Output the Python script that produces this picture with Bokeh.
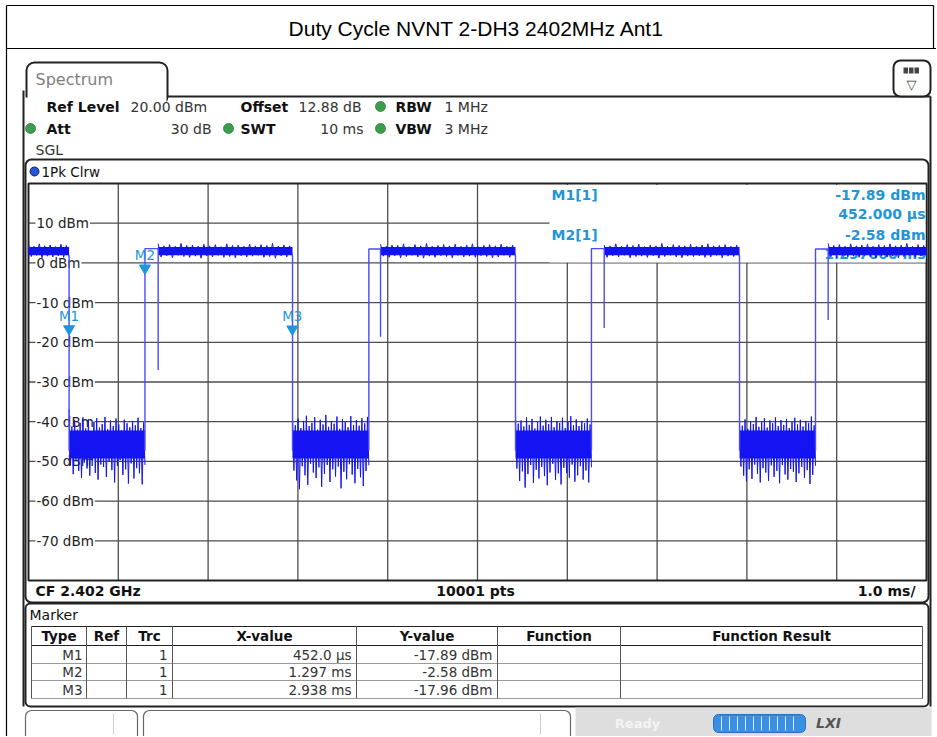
import numpy as np
from bokeh.plotting import figure
from bokeh.models import Range1d
from bokeh.core.properties import value
from bokeh.embed import file_html
from bokeh.resources import INLINE

# ---------------- data ----------------
title_text = "Duty Cycle NVNT 2-DH3 2402MHz Ant1"
sweep_ms = [0.0, 10.0]
level_dbm = [-80.0, 20.0]
x_ticks_ms = [1, 2, 3, 4, 5, 6, 7, 8, 9]
y_ticks_dbm = [10, 0, -10, -20, -30, -40, -50, -60, -70]
y_tick_labels = ["10 dBm", "0 dBm", "-10 dBm", "-20 dBm", "-30 dBm",
                 "-40 dBm", "-50 dBm", "-60 dBm", "-70 dBm"]

# burst timing (ms) and levels (dBm)
fall_ms = [0.452, 2.940, 5.423, 7.918]
rise_ms = [1.297, 3.790, 6.269, 8.764]
dip_ms = [1.444, 3.920, 6.411, 8.905]
dip_dbm = [-27.0, -18.6, -16.4, -14.4]
preamble_dbm = [3.6, 3.5, 3.6, 3.5]
on_core_dbm = [1.9, 4.0]
off_core_dbm = [-49.3, -42.2]

on_peak_hi = [
    [4.6, 4.2, 4.8, 4.3, 4.5, 4.1, 4.7, 4.4],
    [4.8, 4.3, 4.6, 4.2, 4.9, 4.4, 4.5, 4.2, 4.7, 4.3, 4.6, 4.1, 4.8, 4.4, 4.5, 4.2, 4.7, 4.3, 4.6, 4.4, 4.9, 4.2, 4.5, 4.3],
    [4.7, 4.2, 4.5, 4.4, 4.8, 4.1, 4.6, 4.3, 4.9, 4.2, 4.4, 4.6, 4.3, 4.7, 4.2, 4.5, 4.8, 4.1, 4.4, 4.6, 4.3, 4.7, 4.2, 4.5],
    [4.5, 4.3, 4.8, 4.2, 4.6, 4.4, 4.7, 4.1, 4.5, 4.3, 4.9, 4.2, 4.6, 4.4, 4.3, 4.7, 4.2, 4.5, 4.8, 4.3, 4.4, 4.6, 4.2, 4.5],
    [4.9, 4.4, 4.6, 4.2, 4.8, 4.3, 4.5, 4.7, 4.2, 4.6, 4.4, 4.8, 4.3, 4.5, 4.9, 4.2, 4.6, 4.4],
]
on_peak_lo = [
    [1.6, 1.9, 1.3, 1.7, 1.5, 1.8, 1.4, 1.6],
    [1.5, 1.8, 1.3, 1.9, 1.6, 1.4, 1.7, 1.2, 1.8, 1.5, 1.9, 1.4, 1.6, 1.3, 1.8, 1.5, 1.7, 1.9, 1.4, 1.6, 1.2, 1.8, 1.5, 1.7],
    [1.7, 1.4, 1.8, 1.3, 1.6, 1.9, 1.5, 1.2, 1.7, 1.4, 1.8, 1.6, 1.3, 1.9, 1.5, 1.7, 1.4, 1.8, 1.6, 1.3, 1.5, 1.9, 1.4, 1.6],
    [1.4, 1.8, 1.5, 1.9, 1.3, 1.6, 1.7, 1.4, 1.8, 1.2, 1.6, 1.9, 1.5, 1.3, 1.7, 1.6, 1.8, 1.4, 1.5, 1.9, 1.3, 1.7, 1.6, 1.4],
    [1.6, 1.3, 1.8, 1.5, 1.7, 1.4, 1.9, 1.6, 1.2, 1.8, 1.5, 1.7, 1.3, 1.6, 1.9, 1.4, 1.7, 1.5],
]
off_peak_hi = [
    [-36.9, -41.2, -39.6, -42.0, -40.3, -38.9, -41.7, -39.4, -42.4, -40.0, -39.1, -41.5, -40.6, -38.8, -41.9, -39.7, -41.1, -39.2, -40.7, -42.1, -39.5, -40.4, -41.4, -39.8, -40.9, -39.0, -41.6, -40.2],
    [-38.4, -40.9, -39.2, -41.6, -39.8, -38.5, -41.1, -40.3, -38.9, -42.0, -39.5, -40.7, -38.3, -41.3, -39.9, -40.5, -38.7, -41.8, -39.3, -40.1, -41.4, -38.6, -40.8, -39.6, -41.0, -39.1, -40.4, -38.8],
    [-38.2, -40.5, -39.7, -41.2, -38.9, -40.8, -39.3, -41.7, -40.1, -38.7, -41.0, -39.5, -40.6, -38.8, -41.4, -39.9, -40.3, -39.0, -41.6, -40.0, -38.6, -40.9, -39.4, -41.1, -39.8, -40.4, -39.2, -40.7],
    [-40.2, -41.0, -39.4, -41.8, -39.9, -40.6, -38.8, -41.3, -40.0, -39.1, -41.5, -39.7, -40.4, -38.9, -41.1, -39.6, -40.8, -39.3, -41.6, -40.1, -39.0, -40.7, -39.5, -41.2, -39.8, -40.3, -38.7, -40.9],
]
off_peak_lo = [
    [-51.0, -53.2, -49.6, -52.4, -54.1, -50.3, -51.8, -53.6, -49.9, -52.9, -54.6, -50.8, -51.4, -53.9, -50.1, -52.2, -55.3, -51.1, -49.7, -53.4, -52.0, -55.6, -50.5, -54.3, -51.7, -53.0, -55.8, -50.9],
    [-52.3, -54.8, -57.0, -51.2, -53.5, -55.9, -50.6, -52.8, -54.2, -51.5, -56.4, -53.1, -50.9, -55.2, -52.0, -53.8, -51.3, -56.8, -52.6, -54.5, -50.7, -53.3, -55.5, -51.9, -54.0, -56.2, -52.4, -51.0],
    [-51.8, -54.9, -52.5, -56.6, -53.2, -50.9, -55.4, -52.1, -54.3, -51.4, -53.7, -56.0, -52.8, -50.6, -54.7, -53.0, -55.8, -51.6, -52.9, -54.1, -50.8, -55.1, -53.5, -51.2, -54.6, -52.3, -55.3, -51.5],
    [-51.3, -53.6, -55.0, -52.0, -54.4, -50.8, -53.1, -55.3, -51.7, -52.8, -54.9, -51.0, -53.9, -52.4, -55.5, -50.9, -53.3, -54.6, -51.9, -52.6, -55.2, -53.0, -51.4, -54.1, -52.2, -55.7, -53.4, -51.1],
]

marker_names = ["M1", "M2", "M3"]
marker_ms = [0.452, 1.297, 2.938]
marker_dbm = [-17.89, -2.58, -17.96]
marker_x_text = ["452.0 µs", "1.297 ms", "2.938 ms"]
marker_y_text = ["-17.89 dBm", "-2.58 dBm", "-17.96 dBm"]
marker_info = [("M1[1]", "-17.89 dBm"), ("", "452.000 µs"), ("M2[1]", "-2.58 dBm"), ("", "1.297000 ms")]
table_headers = ["Type", "Ref", "Trc", "X-value", "Y-value", "Function", "Function Result"]

# ---------------- geometry / style ----------------
W, H = 936, 736
OX, OY = 0, 0                       # canvas origin on the page
PL, PR, PT, PB = 28, 926, 183, 580  # plot area (page px)
FONT = "DejaVu Sans"
TRACE = "#1414f2"
EDGE = "#4a4aff"
MK = "#1e96dc"
DARK = "#222222"

sx = (sweep_ms[1] - sweep_ms[0]) / (PR - PL)
sy = (level_dbm[1] - level_dbm[0]) / (PB - PT)
x_range = Range1d(sweep_ms[0] - (PL - OX) * sx, sweep_ms[1] + (OX + W - PR) * sx)
y_range = Range1d(level_dbm[0] - (OY + H - PB) * sy, level_dbm[1] + (PT - OY) * sy)

p = figure(width=W, height=H, x_range=x_range, y_range=y_range,
           output_backend="svg", toolbar_location=None,
           x_axis_location=None, y_axis_location=None, min_border=0)
p.outline_line_color = None
p.background_fill_color = "white"
p.border_fill_color = "white"
p.grid.visible = False
p.extra_x_ranges = {"px": Range1d(OX, OX + W)}
p.extra_y_ranges = {"px": Range1d(OY + H, OY),
                    "mk": Range1d(y_range.start - 5 * sy, y_range.end - 5 * sy)}

PX = dict(x_range_name="px", y_range_name="px")


def ptext(x, y, s, size=14, bold=False, color="#111111", align="left", font=FONT, italic=False):
    style = "bold" if bold else "normal"
    if italic:
        style = "bold italic" if bold else "italic"
    p.text(x=[x], y=[y], text=[s], text_align=align, text_baseline="middle",
           text_font=value(font), text_font_size=value(f"{size}px"),
           text_font_style=style, text_color=color, **PX)


def pline(xs, ys, color=DARK, width=1.5):
    p.line(xs, ys, line_color=color, line_width=width, **PX)


def pbox(l, r, t, b, fill=None, line=DARK, width=1.5, radius=0):
    p.quad(left=[l], right=[r], top=[t], bottom=[b], fill_color=fill,
           line_color=line, line_width=width, border_radius=radius, **PX)


# ---------------- chrome ----------------
ptext(476, 28, title_text, size=21, font="Liberation Sans", color="#000000", align="center")
pline([6, 933], [5, 5], "#000000", 1.2)
pline([6, 936], [48, 48], "#000000", 1.2)
pline([6, 6], [5, 736], "#000000", 1.2)
pline([933, 933], [5, 48], "#000000", 1.2)

# spectrum tab
p.quad(left=[26], right=[167], top=[62], bottom=[104], fill_color="white",
       line_color=DARK, line_width=2, border_radius=8, **PX)
pline([167, 930], [96, 96], DARK, 2)
pline([930, 930], [96, 706], DARK, 2)
p.quad(left=[24], right=[166], top=[97], bottom=[106], fill_color="white", line_color=None, **PX)
pline([23, 23], [90, 706], DARK, 2)
ptext(35, 79, "Spectrum", size=16, color="#808080")
pbox(893, 930, 60, 96, fill="white", width=2, radius=7)
p.quad(left=[903, 908.5, 914], right=[907.5, 913, 918.5], top=[67] * 3, bottom=[73] * 3,
       fill_color="#444444", line_color=None, **PX)
ptext(911, 84, "▽", size=13, color="#333333", align="center")

# header
ptext(46, 106, "Ref Level", bold=True)
ptext(130, 106, "20.00 dBm", color="#333333")
ptext(240, 106, "Offset", bold=True)
ptext(298, 106, "12.88 dB", color="#333333")
ptext(395, 106, "RBW", bold=True)
ptext(444, 106, "1 MHz", color="#333333")
ptext(46, 128, "Att", bold=True)
ptext(211, 128, "30 dB", color="#333333", align="right")
ptext(240, 128, "SWT", bold=True)
ptext(363, 128, "10 ms", color="#333333", align="right")
ptext(395, 128, "VBW", bold=True)
ptext(444, 128, "3 MHz", color="#333333")
ptext(35, 149, "SGL", color="#333333")
p.scatter(x=[380, 30, 228, 380], y=[106, 128, 128, 128], size=10, marker="circle",
          fill_color="#3c9d4c", line_color="#2e7d3b", line_width=0.8, **PX)

# trace window
pbox(25, 928, 159, 602, fill=None, width=2, radius=6)
p.scatter(x=[34], y=[171], size=9, marker="circle", fill_color="#2255dd",
          line_color="#222244", line_width=1, **PX)
ptext(41, 171, "1Pk Clrw", size=13.5)

# bottom bar
ptext(35, 590, "CF 2.402 GHz", bold=True)
ptext(475, 590, "10001 pts", bold=True, align="center")
ptext(915, 590, "1.0 ms/", bold=True, align="right")

# marker table
pbox(25, 928, 603, 706, fill=None, width=2, radius=5)
ptext(29, 614, "Marker", size=14)
cols = [31, 86, 126, 172, 356, 497, 620, 922]
rows = [626, 645, 663, 680, 698]
for yy in rows:
    pline([cols[0], cols[-1]], [yy, yy], DARK if yy <= 645 else "#9a9a9a", 1.2 if yy <= 645 else 1)
for xx in cols:
    pline([xx, xx], [rows[0], rows[-1]], "#555555", 1)
for i, h in enumerate(table_headers):
    ptext((cols[i] + cols[i + 1]) / 2, 635.5, h, size=13.5, bold=True, align="center")
for j in range(3):
    yy = (rows[j + 1] + rows[j + 2]) / 2
    ptext(82, yy, marker_names[j], size=13.5, color="#333333", align="right")
    ptext(167, yy, "1", size=13.5, color="#333333", align="right")
    ptext(351, yy, marker_x_text[j], size=13.5, color="#333333", align="right")
    ptext(492, yy, marker_y_text[j], size=13.5, color="#333333", align="right")

# status bar
pbox(25, 137, 710, 745, fill="white", line="#666666", width=1.2, radius=6)
pline([113, 113], [713, 734], "#cccccc", 1)
pbox(143, 570, 710, 745, fill="white", line="#666666", width=1.2, radius=6)
pline([540, 540], [713, 734], "#cccccc", 1)
pbox(575, 931, 707, 745, fill="#dedede", line=None)
ptext(637, 723, "Ready", size=13, bold=True, color="#f4f4f4", align="center")
pbox(713, 805, 714, 732, fill="#3b8fe3", line="#2a6fc0", width=1, radius=5)
p.segment(x0=list(range(721, 801, 8)), y0=[716] * 10, x1=list(range(721, 801, 8)), y1=[730] * 10,
          line_color="#dfefff", line_width=1, **PX)
ptext(828, 722, "LXI", size=14, bold=True, italic=True, color="#555555", align="center")

# ---------------- grid + labels ----------------
p.segment(x0=x_ticks_ms, y0=[level_dbm[0]] * len(x_ticks_ms), x1=x_ticks_ms,
          y1=[level_dbm[1]] * len(x_ticks_ms), line_color="#4d4d4d", line_width=1.3)
p.segment(x0=[sweep_ms[0]] * len(y_ticks_dbm), y0=y_ticks_dbm, x1=[sweep_ms[1]] * len(y_ticks_dbm),
          y1=y_ticks_dbm, line_color="#4d4d4d", line_width=1.3)
p.quad(left=[sweep_ms[0]], right=[sweep_ms[1]], bottom=[level_dbm[0]], top=[level_dbm[1]],
       fill_color=None, line_color=DARK, line_width=2)
# marker readout box
pbox(549, 925, 184.5, 262, fill="white", line=None)
p.text(x=[sweep_ms[0]] * len(y_ticks_dbm), y=y_ticks_dbm, text=y_tick_labels, x_offset=7,
       text_baseline="middle", text_align="left", text_font=value(FONT),
       text_font_size=value("13.5px"), text_color="#222222",
       background_fill_color="white", padding=1)

for k, (lab, val) in enumerate(marker_info):
    yy = [194, 213, 234, 253][k]
    if lab:
        ptext(551, yy, lab, size=14, bold=True, color=MK)
    ptext(925, yy, val, size=14, bold=True, color=MK, align="right")

# ---------------- trace ----------------
on_start = [sweep_ms[0]] + dip_ms
on_end = fall_ms + [sweep_ms[1]]
p.quad(left=on_start, right=on_end, bottom=[on_core_dbm[0]] * 5, top=[on_core_dbm[1]] * 5,
       fill_color=TRACE, line_color=None)
p.quad(left=fall_ms, right=rise_ms, bottom=[off_core_dbm[0]] * 4, top=[off_core_dbm[1]] * 4,
       fill_color=TRACE, line_color=None)

zx, zy = [], []
for i in range(5):
    n = len(on_peak_hi[i])
    zx.append(list(np.linspace(on_start[i], on_end[i], 2 * n)))
    zy.append([v for pair in zip(on_peak_hi[i], on_peak_lo[i]) for v in pair])
for i in range(4):
    n = len(off_peak_hi[i])
    zx.append(list(np.linspace(fall_ms[i], rise_ms[i], 2 * n)))
    zy.append([v for pair in zip(off_peak_hi[i], off_peak_lo[i]) for v in pair])
p.multi_line(xs=zx, ys=zy, line_color=TRACE, line_width=1.0)

exs, eys = [], []
for i in range(4):
    exs.append([fall_ms[i], fall_ms[i]])
    eys.append([on_core_dbm[0], off_core_dbm[0] + 2])
    exs.append([rise_ms[i], rise_ms[i], dip_ms[i], dip_ms[i]])
    eys.append([off_core_dbm[0] + 2, preamble_dbm[i], preamble_dbm[i], dip_dbm[i]])
p.multi_line(xs=exs, ys=eys, line_color=EDGE, line_width=1.4)

# ---------------- markers ----------------
p.scatter(x=marker_ms, y=marker_dbm, marker="inverted_triangle", size=11,
          fill_color=MK, line_color=MK, y_range_name="mk")
p.text(x=marker_ms, y=marker_dbm, text=marker_names, y_offset=-13, text_align="center",
       text_baseline="middle", text_font=value(FONT), text_font_size=value("13.5px"),
       text_color=MK, y_range_name="mk")

open("out.html", "w").write(file_html(p, INLINE))
